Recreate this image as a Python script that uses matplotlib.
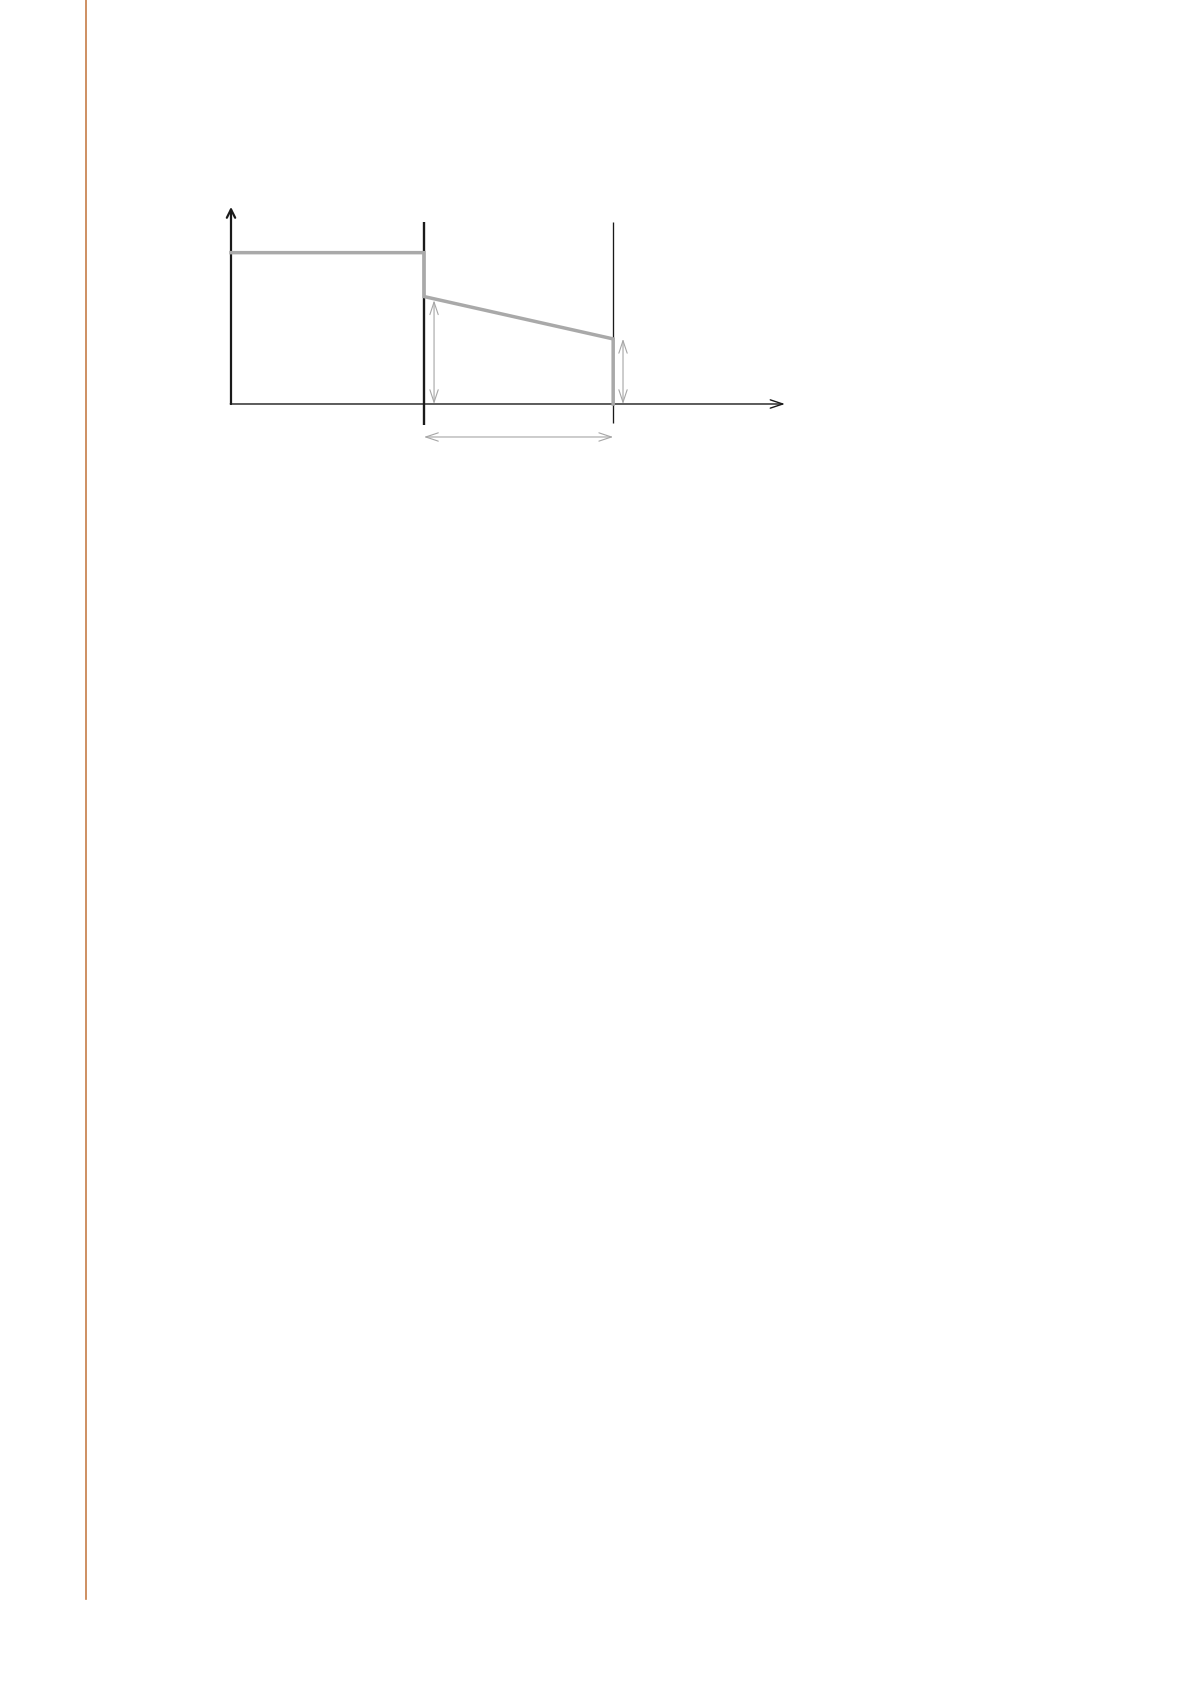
import matplotlib
matplotlib.use("Agg")
import matplotlib.pyplot as plt
from matplotlib.lines import Line2D

# Schematic data (logical units)
time = [0.0, 1.0, 1.0, 1.98, 1.98]
level = [1.0, 1.0, 0.71, 0.43, 0.0]
boundaries = [1.0, 1.98]
boundary_top = 1.203
boundary_bottom = [-0.139, -0.126]
boundary_widths = [1.7, 0.95]
y_axis_top = 1.302
x_axis_end = 2.87
span_arrow_y = -0.218
left_arrow_x = 1.052
right_arrow_x = 2.031

W, H = 1191, 1684
fig = plt.figure(figsize=(W / 100, H / 100), dpi=100)
fig.patch.set_facecolor("white")

# page margin rule
fig.add_artist(Line2D([85.5 / W, 85.5 / W], [1.0, 1 - 1599 / H],
                      color="#c67d47", lw=1.2, transform=fig.transFigure))

ax = fig.add_axes([200 / W, 1 - 450 / H, 600 / W, 260 / H])
ax.set_xlim(-0.1606, 2.948)
ax.set_ylim(-0.304, 1.414)
ax.axis("off")

# axes with arrows
ax.annotate("", xy=(0, y_axis_top), xytext=(0, 0),
            arrowprops=dict(arrowstyle="->,head_length=0.6,head_width=0.3", color="#1a1a1a", lw=1.6,
                            shrinkA=0, shrinkB=0))
ax.annotate("", xy=(x_axis_end, 0), xytext=(-0.004, 0),
            arrowprops=dict(arrowstyle="->,head_length=0.9,head_width=0.3", color="#1a1a1a", lw=1.0,
                            shrinkA=0, shrinkB=0))

# phase boundaries
for bx, bb, bw in zip(boundaries, boundary_bottom, boundary_widths):
    ax.plot([bx, bx], [bb, boundary_top], color="#1a1a1a", lw=bw, solid_capstyle="butt")

# main profile
ax.plot(time, level, color="#a9a9a9", lw=2.5, solid_joinstyle="miter", zorder=3)

# dimension arrows
gray = "#a6a6a6"
ap = dict(arrowstyle="<->,head_length=0.9,head_width=0.3", color=gray, lw=0.8,
          shrinkA=0, shrinkB=0)
ax.annotate("", xy=(left_arrow_x, level[2] - 0.025), xytext=(left_arrow_x, 0), arrowprops=ap)
ax.annotate("", xy=(right_arrow_x, level[3]), xytext=(right_arrow_x, 0), arrowprops=ap)
ax.annotate("", xy=(boundaries[0], span_arrow_y), xytext=(boundaries[1], span_arrow_y), arrowprops=ap)

fig.savefig("out.png", dpi=100, facecolor="white")
